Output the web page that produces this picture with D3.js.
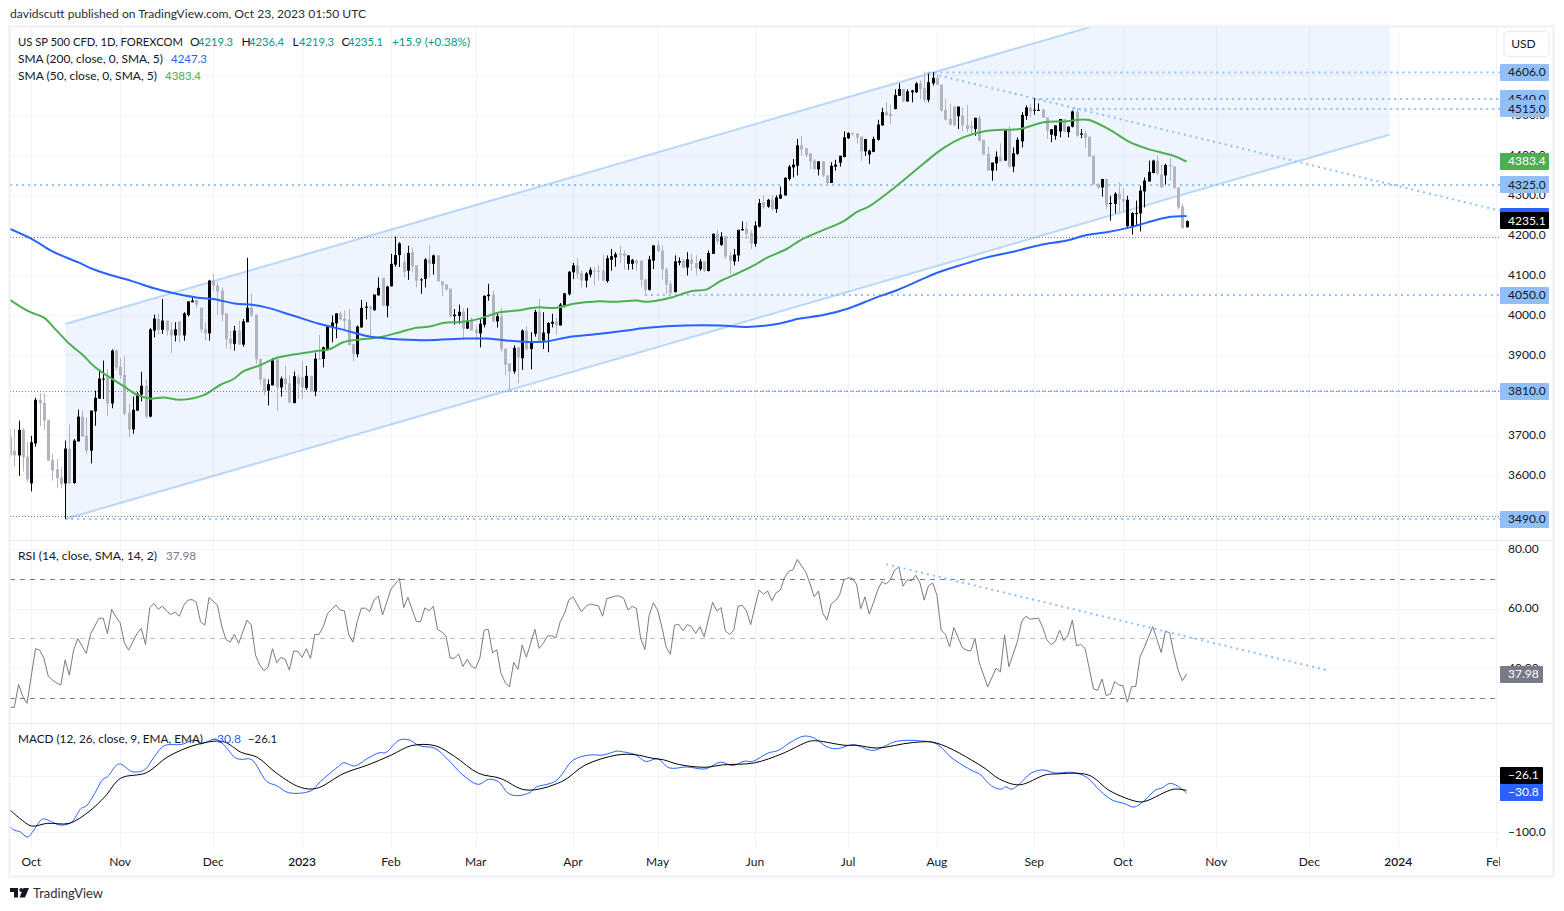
<!DOCTYPE html>
<html><head><meta charset="utf-8">
<script src="https://cdn.jsdelivr.net/npm/d3@7/dist/d3.min.js"></script>
<style>
html,body{margin:0;padding:0;background:#fff}
svg{display:block}
text{font-family:"Lato",sans-serif;font-size:12px;fill:#131722}
</style></head><body>
<svg id="c" width="1564" height="911"></svg>
<script>
// ---------- candle data (index-based trading days) ----------
const candleDirection = [
 'ggbggbbggg','gggbgbbggb','bbbgbggggb','bbgbbgbggb','gbbbgggbgg','gggbgbbggg','gbbgbggbgg','bgbgbbbbgg',
 'ggbbbgbbgb','bbbgbggbbg','bggggbbgbg','gbbbgbgggb','gbgbbgbbbg','bbbbggbbgg','gbbbggbbgg','gbbggggbbg',
 'bggbgbbgbg','gbbbggbbgb','gbbbbbbggg','gbggbbbbbg','ggbbbbbggb','bgbbbggbbg','ggggbgggbg','ggbbgbgbbb',
 'bgbbggbbbg','bbgbggggbg','bbggbbbbbb','bggbggggb'].join('');
const highs = [3715,3715,3736,3718,3682,3698,3793,3805,3805,3738,
 3653,3640,3619,3686,3726,3690,3763,3761,3744,3761,
 3811,3864,3886,3865,3914,3915,3893,3898,3778,3796,
 3807,3858,3839,3967,4001,4004,4040,3986,3982,3982,
 3984,4007,4034,4044,4038,4018,3982,4088,4103,4082,
 4069,4004,3961,3973,3986,3990,4143,4053,4001,3890,
 3841,3839,3892,3889,3846,3873,3849,3859,3851,3884,
 3873,3848,3906,3951,3921,3971,3999,4004,4009,4011,
 4015,3927,3974,4038,4032,4023,4051,4094,4093,4073,
 4153,4196,4182,4153,4173,4168,4124,4092,4142,4175,
 4151,4149,4084,4078,4066,4015,4026,4017,4017,3994,
 3974,3990,4049,4078,4061,4007,4019,3916,3879,3924,
 3921,3964,3972,3957,4013,4040,4007,3982,4003,3994,
 4030,4055,4110,4130,4142,4111,4107,4119,4119,4124,
 4151,4149,4165,4157,4173,4161,4149,4140,4140,4136,
 4089,4148,4174,4186,4174,4119,4086,4149,4144,4140,
 4157,4153,4149,4140,4134,4161,4204,4213,4207,4197,
 4157,4165,4213,4234,4232,4211,4234,4290,4299,4290,
 4299,4299,4321,4344,4375,4390,4440,4448,4417,4404,
 4390,4384,4384,4349,4382,4388,4398,4459,4457,4457,
 4454,4446,4440,4413,4446,4488,4518,4532,4526,4564,
 4579,4565,4564,4563,4582,4586,4609,4603,4607,4601,
 4576,4540,4528,4522,4521,4519,4525,4486,4493,4498,
 4438,4421,4381,4409,4429,4465,4473,4419,4444,4507,
 4524,4528,4542,4529,4515,4494,4465,4474,4490,4490,
 4471,4511,4517,4465,4461,4446,4398,4328,4340,4340,
 4298,4307,4332,4317,4298,4257,4286,4323,4344,4386,
 4388,4398,4376,4378,4393,4371,4319,4279,4236.4];
const lows = [3644,3621,3598,3609,3582,3559,3671,3722,3713,3636,
 3586,3567,3567,3490,3579,3578,3684,3696,3653,3629,
 3723,3791,3790,3747,3767,3861,3840,3749,3694,3703,
 3761,3784,3742,3744,3944,3951,3953,3949,3904,3934,
 3932,3936,3996,4032,4018,3957,3936,3936,4061,4001,
 3984,3916,3914,3911,3926,3921,3982,3994,3878,3826,
 3799,3774,3824,3761,3796,3811,3779,3779,3790,3790,
 3813,3809,3797,3889,3869,3911,3932,3942,3986,3965,
 3924,3884,3894,3968,3989,3949,4011,4049,4023,3994,
 4071,4121,4120,4094,4088,4108,4069,4053,4069,4094,
 4101,4084,4047,4061,3994,3976,3978,3944,3965,3961,
 3938,3919,3969,4036,3982,3969,3907,3849,3811,3853,
 3829,3863,3911,3864,3946,3934,3915,3907,3969,3951,
 3974,4019,4049,4090,4090,4069,4069,4094,4074,4086,
 4086,4081,4111,4121,4129,4113,4113,4114,4111,4071,
 4049,4061,4115,4159,4089,4053,4044,4057,4124,4118,
 4099,4111,4099,4111,4107,4109,4153,4178,4173,4140,
 4103,4124,4134,4211,4190,4165,4171,4219,4265,4268,
 4261,4255,4290,4299,4336,4344,4349,4399,4394,4365,
 4363,4349,4344,4324,4330,4361,4371,4394,4440,4448,
 4428,4386,4398,4378,4407,4436,4473,4498,4478,4514,
 4548,4532,4533,4532,4555,4540,4532,4532,4574,4574,
 4507,4486,4474,4472,4465,4459,4457,4448,4448,4433,
 4401,4361,4336,4361,4384,4386,4368,4357,4400,4419,
 4488,4494,4501,4511,4493,4440,4432,4438,4444,4457,
 4444,4469,4446,4442,4418,4396,4326,4315,4296,4265,
 4236,4254,4257,4259,4215,4201,4224,4209,4269,4334,
 4354,4349,4318,4326,4336,4315,4265,4217,4219.3];
const bodyUpper = [3696,3661,3713,3713,3646,3682,3788,3788,3781,3738,
 3638,3614,3594,3666,3666,3686,3746,3746,3698,3761,
 3793,3841,3841,3844,3911,3911,3871,3851,3756,3763,
 3803,3823,3823,3964,3991,3990,3986,3986,3963,3964,
 3984,4004,4034,4036,4038,4018,3965,4086,4086,4074,
 4061,4004,3941,3961,3961,3984,4018,4018,4001,3890,
 3841,3827,3886,3889,3841,3841,3829,3847,3844,3844,
 3848,3848,3891,3891,3919,3971,3981,4004,4004,3991,
 3988,3927,3971,4018,4021,4021,4051,4068,4093,4071,
 4128,4150,4179,4133,4155,4157,4124,4089,4139,4139,
 4149,4149,4084,4076,4066,4001,4008,4008,3986,3986,
 3964,3978,4048,4051,4051,3997,3996,3916,3879,3918,
 3919,3961,3961,3934,4008,4009,3956,3980,3983,3984,
 4026,4054,4108,4124,4124,4105,4104,4113,4111,4111,
 4111,4142,4147,4152,4154,4154,4149,4138,4136,4136,
 4089,4139,4174,4174,4161,4115,4078,4134,4135,4136,
 4139,4139,4130,4134,4134,4155,4203,4203,4196,4197,
 4149,4151,4213,4215,4216,4205,4224,4280,4282,4288,
 4288,4294,4301,4343,4371,4376,4424,4424,4417,4404,
 4386,4384,4384,4349,4373,4376,4398,4444,4455,4455,
 4454,4446,4440,4411,4440,4476,4507,4507,4503,4550,
 4565,4565,4559,4561,4579,4579,4567,4582,4593,4593,
 4576,4513,4490,4521,4521,4498,4475,4472,4493,4493,
 4438,4403,4381,4396,4396,4465,4465,4404,4438,4500,
 4519,4518,4513,4513,4514,4494,4464,4474,4490,4490,
 4471,4509,4509,4454,4454,4446,4398,4328,4340,4340,
 4280,4303,4304,4290,4288,4255,4255,4311,4336,4358,
 4386,4386,4351,4375,4375,4371,4319,4271,4235.1];
const bodyLower = [3649,3649,3649,3644,3589,3579,3679,3779,3736,3636,
 3611,3592,3578,3579,3579,3580,3684,3696,3661,3661,
 3759,3791,3839,3779,3779,3869,3849,3753,3714,3714,
 3761,3801,3746,3746,3961,3963,3963,3961,3949,3949,
 3949,3949,4000,4032,4026,3964,3954,3954,4073,4059,
 4001,3939,3929,3928,3926,3926,3982,3999,3889,3839,
 3810,3811,3824,3819,3819,3827,3781,3780,3828,3819,
 3818,3809,3809,3889,3890,3915,3969,3979,3989,3984,
 3925,3903,3902,3969,4018,4016,4012,4049,4023,4023,
 4072,4126,4150,4108,4111,4122,4086,4087,4090,4128,
 4128,4084,4074,4064,3996,3997,3998,3966,3966,3961,
 3954,3954,3976,4047,3984,3984,3914,3876,3859,3859,
 3894,3892,3914,3915,3953,3934,3936,3954,3978,3974,
 3974,4023,4052,4107,4103,4086,4086,4101,4109,4108,
 4086,4085,4138,4144,4150,4147,4128,4128,4129,4088,
 4063,4063,4136,4159,4114,4076,4055,4057,4131,4118,
 4119,4128,4117,4115,4111,4110,4153,4184,4175,4146,
 4136,4134,4149,4212,4203,4179,4178,4221,4269,4271,
 4265,4265,4291,4299,4340,4369,4373,4414,4400,4384,
 4365,4364,4349,4330,4330,4371,4381,4395,4442,4453,
 4443,4409,4409,4401,4408,4438,4474,4500,4498,4515,
 4548,4534,4534,4557,4557,4565,4538,4538,4579,4576,
 4511,4488,4476,4474,4497,4474,4465,4467,4465,4436,
 4401,4361,4361,4379,4384,4386,4371,4371,4403,4434,
 4498,4509,4511,4512,4493,4461,4451,4448,4459,4459,
 4457,4471,4448,4451,4443,4396,4326,4318,4319,4276,
 4278,4278,4289,4284,4222,4222,4254,4254,4309,4334,
 4355,4353,4319,4349,4372,4318,4269,4217,4219.3];

// ---------- moving averages (bar position) ----------
const sma200Bars = [0,5.5,10,16,20,24.4,29,34,38.5,44,48,53,57.5,60.5,67,73,79.5,84,89,92,98.4,107.9,112.6,115.7,121.3,126.8,131.5,139.4,145.7,148.8,155.1,167.7,174,181.9,186.6,192.1,197.7,204,209.5,215,219.7,226,230.8,237,243.4,249.7,254.4,259.1,265.4,268.6,273.3,278];
const sma200Vals = [4215,4188,4159,4132,4113,4098,4084,4067,4055,4044,4040,4029,4025,4019,3998,3978,3961,3948,3941,3939,3937,3941,3941,3938,3933,3934,3944,3953,3961,3966,3972,3974,3970,3979,3991,4000,4015,4041,4062,4087,4108,4129,4144,4158,4175,4186,4200,4207,4221,4231,4244,4247.3];
const sma50Bars = [0,2.4,4.8,7.9,11,14.2,17.3,19.7,22.8,26.8,29.9,33,36.2,40.2,45.6,49.6,52.8,55.1,59,63,67,71.7,75.6,78.7,82.7,86.6,92.1,96,99.2,102.3,107.1,111,115.7,119.7,124.4,129.1,133.1,138.6,142.5,148.1,150.4,156,160.7,164.6,167.7,172.5,176.4,178.8,183.5,186.6,191.4,196.9,200,203.2,209.5,215.8,220.5,225.2,230,234.7,238.6,244.2,248.9,253.6,255.2,259.9,264.6,268.6,274.9,278];
const sma50Vals = [4038,4021,4007,3994,3961,3926,3899,3873,3849,3822,3801,3791,3794,3788,3799,3825,3840,3859,3874,3893,3901,3909,3915,3932,3939,3943,3957,3968,3971,3980,3983,3991,4007,4011,4019,4018,4028,4034,4033,4036,4033,4043,4059,4064,4084,4107,4128,4143,4165,4186,4209,4234,4257,4273,4323,4378,4417,4444,4459,4463,4465,4482,4484,4489,4487,4463,4432,4416,4398,4383.4];

// ---------- RSI ----------
const rsiBars = [0,1,2,3,4,6,7,8,9,10,11,12,13,14,15,16,18,19,21,22,23,24,25,26,27,28,30,31,32,33,34,35,36,37,38,39,40,41,42,43,44,45,46,47,49,50,51,52,53,54,56,57,58,59,60,61,62,63,64,65,66,67,68,69,70,71,72,73,74,75,76,77,78,79,80,81,82,83,84,85,86,87,88,90,91,92,93,94,96,97,98,99,100,101,102,103,104,105,106,107,108,109,110,111,112,113,114,115,116,117,118,119,120,121,122,124,125,126,127,128,129,130,131,132,133,135,136,137,139,140,141,143,144,145,146,147,148,149,150,151,152,153,154,155,156,157,158,159,160,161,162,163,164,166,167,168,169,170,171,172,173,174,175,176,177,178,179,180,181,182,183,184,185,186,188,189,190,191,192,193,194,195,196,197,198,199,200,201,202,203,204,205,206,207,208,209,210,211,212,213,214,215,216,217,218,219,220,221,222,223,225,226,227,228,229,231,233,234,235,236,238,239,240,241,243,244,245,246,247,248,249,250,251,252,253,254,255,256,257,258,259,260,261,262,263,264,265,266,267,268,270,272,273,274,275,276,277,278];
const rsiVals = [26.8,26.8,34.5,30.4,28.1,46.5,46,43.2,37.3,36,35,34.3,42.7,37.6,46,49.9,44.9,51.4,56.7,56.7,51.6,59.7,57.2,55.2,48.5,46,51.6,53.3,47.9,60.3,61.7,59.8,60.8,59.1,58,58.8,57.4,61,62.8,63,62.1,55.5,54.4,63.7,61.1,54.1,49.6,48.7,51.3,48.3,56.1,54.4,44.3,41,39.1,40.4,46.5,41.8,43.6,42.9,39.3,45.7,45.6,43.6,46.5,43.2,51.3,51.3,53.9,58.3,59.7,61.2,59.5,59.2,51.3,48.7,55.5,60.1,60.1,59,62.8,64.2,57.8,66.5,68.2,70.1,60.3,63.7,55.6,55.6,60.2,59.2,60.8,53,52.1,50.7,43.3,43.3,44.7,40.5,42.9,40.6,39.9,43.3,52.7,53,45.1,46.2,38.2,35.1,33.6,41.9,39.5,47.7,43.6,53,46.6,48.3,50.8,50.8,50.2,55.6,58.3,62.8,63.9,58.9,60.6,61.5,60.9,57.4,63.3,64.2,64.2,63.4,59.5,60.7,60,49.9,46.2,57.7,61.9,59.5,53.9,47.1,44.6,54.4,54.7,52.5,54.6,53.9,51.6,53.9,50.5,62.1,59.2,60.3,52.5,51.3,52.7,60.7,61.1,59.2,54.6,60.6,66.2,64.8,65.9,62.6,65.3,66.2,70.4,72.5,73.1,76.5,72.3,68.4,63.9,65.9,58.6,56.1,61.5,62.6,64.5,69.5,70.3,70.1,68.2,60,63.9,58.1,61.9,66.2,69,68.2,69.7,72.9,74,67.5,69.7,69.3,71.2,68.6,62.8,67.6,68.6,64.5,52.7,51.4,47.1,53.6,46.9,46,45.7,49.9,41.8,33.7,39.9,38.7,51.1,40.4,48.8,55.5,57.4,56.4,56.8,53.6,49.4,47.8,49,52.7,49.2,51.1,56.1,47.5,47.9,46.6,39.9,33,32.5,36.3,30.7,31.3,35.4,34.3,34,28.5,33.7,33.8,43.8,46.9,53.9,45.2,52.4,51.8,44.9,39.3,35.7,37.98];

// ---------- MACD ----------
const macdBars = [0,0.9,2.3,4.2,5.6,7.7,9.8,11.8,14.4,16.8,18,20,21.9,23,25.2,26.1,28.9,31.7,34.1,36.4,40.6,43.4,45.3,48.6,50.4,53.2,54.6,57,60.7,63,65.8,71,73.3,77.5,78.9,81.3,84.5,87.3,88.7,92,94.3,96.7,100.4,103.2,107,110.7,113,115.4,117.7,120,122.9,124.2,128.9,133.1,136.9,140.1,143.4,144.1,147.8,150.2,153,155.8,160,164.2,167.9,170.7,173.5,175.4,179.1,181.5,184.3,187.5,189.9,193.1,195.5,199.2,203.9,209.5,215.1,218.8,222.6,227.3,229.1,231.9,234.3,235.2,236.6,238.5,241.3,244.1,246.9,251.1,254.4,257.6,260.4,263.2,265.6,267.9,270.7,272.1,274,275.8,278];
const macdVals = [-90.6,-96.5,-99.4,-108.9,-96.5,-76.9,-81.7,-87.6,-83.5,-58,-53.9,-31.4,-6.5,-1.8,19,20.7,7.1,10.1,33.8,53.3,55.7,63.4,57.4,65.1,55.7,32,29,29,-10.6,-17.7,-30.2,-27.2,-10.6,16,23.1,17.2,30.8,40.9,40.9,63.4,63.4,53.3,48.6,30.8,1.2,-15.4,-6.5,-10.6,-31.4,-35.5,-29.6,-20.7,-9.5,27.8,36.7,36.7,43.8,43.2,37.2,25.2,30,13.8,15.6,12,24,18,25.8,25.2,40.2,45,58.8,70.2,67.2,51,48,55.2,45,61.2,61.8,57,31.2,9,3,-18,-24,-19.8,-24,-15,4.8,10.2,4.8,6,-3,-27,-43.2,-49.2,-55.8,-45,-25.2,-22.2,-13.8,-18,-30.8];
const signalBars = [0,2.3,5.1,8.8,14,18.6,22.4,26.1,32.2,37.3,44.3,50.4,54.6,58.4,63,68.6,72.4,78.9,84.5,90.1,94.8,100.4,105.1,110.7,115.8,121.9,130.3,135.9,143.4,147.8,151.6,154.4,158.1,164.2,168.4,175.9,182.4,188.9,190.8,197.3,200.1,204.8,213.2,218.8,229.6,233.8,238.5,244.5,246.9,254.8,259.9,266.5,268.4,274.9,278];
const signalVals = [-61,-75.8,-89.4,-84.6,-84.6,-63.9,-37.3,-4.7,5.3,33.8,55.7,60.4,41.5,32.6,4.2,-20.7,-22.5,4.2,19,36.7,53.3,53.3,33.8,4.2,-4.7,-25.4,-10.6,19,36.7,37.2,31.2,28.2,19.8,15,19.2,22.8,39,61.2,61.8,54,54,49.2,58.8,58.2,16.8,-6,-16.2,1.2,3,1.2,-27,-46.2,-45,-24,-26.1];

// ---------- axes, levels, annotations ----------
const monthBars = [5,26,48,69,90,110,133,153,176,198,219,242,263,285,307,328,351];
const monthLabels = ['Oct','Nov','Dec','2023','Feb','Mar','Apr','May','Jun','Jul','Aug','Sep','Oct','Nov','Dec','2024','Feb'];
const priceTicks = [3500,3600,3700,3800,3900,4000,4100,4200,4300,4400,4500,4600];
const priceTicksCovered = [3500,3800,4600];
const rsiTicks = [40,60,80];
const macdTicks = [-100,0];
const macdTicksCovered = [0];
const rsiBands = [70,50,30];
const levelPrices = [4606,4540,4515,4325,4050,3810,3490];
const levelStartBars = [217,242,251,0,150,118,13];
const thinLevels = [4196,3810,3497];
const channelBars = [13,326];
const channelLower = [3490,4451];
const channelUpper = [3977.5,4937];
const priceTrendBars = [216.7,352];
const priceTrendVals = [4606,4261];
const rsiTrendBars = [207,311];
const rsiTrendVals = [74.9,39.3];

const svg = d3.select('#c');
const x = d3.scaleLinear().domain([0,352]).range([10.1,10.1+352*4.232]);
const yP = d3.scaleLinear().domain([3490,4606]).range([519,72.6]);
const yR = d3.scaleLinear().domain([40,80]).range([668,549]);
const yM = d3.scaleLinear().domain([-100,0]).range([832,775.7]);
const L=10,R=1500;
const BLUE='#2962ff',GREEN='#4caf50',GREY='#b2b5be',TAGB='#90bff9',GRID='#f0f3fa',LINEB='#90bff9',AX='#131722';

const defs = svg.append('defs');
const clip=(id,a,b,r=R)=>defs.append('clipPath').attr('id',id).append('rect').attr('x',L).attr('y',a).attr('width',r-L).attr('height',b-a);
clip('pM',27,540); clip('pR',541,723); clip('pD',724,848);
defs.append('clipPath').attr('id','tx').append('rect').attr('x',L).attr('y',848).attr('width',R-L).attr('height',28);

// vertical grid
svg.append('g').selectAll('line').data(monthBars).join('line')
 .attr('x1',d=>Math.round(x(d))+.5).attr('x2',d=>Math.round(x(d))+.5).attr('y1',27).attr('y2',848)
 .attr('stroke',GRID);
// horizontal grid + axis labels
function rightAxis(scale,ticks,fmt){
  const g=svg.append('g').attr('transform',`translate(${R},0)`)
    .call(d3.axisRight(scale).tickValues(ticks).tickSize(0).tickPadding(8).tickFormat(fmt));
  g.select('.domain').remove();
  g.selectAll('text').attr('font-size',null).style('font-size','12px').style('fill',AX).attr('dy','.27em');
  svg.insert('g',':first-child').selectAll('line').data(ticks).join('line')
    .attr('x1',L).attr('x2',R).attr('y1',d=>Math.round(scale(d))+.5).attr('y2',d=>Math.round(scale(d))+.5).attr('stroke',GRID);
  return g;
}
rightAxis(yP,priceTicks,d=>priceTicksCovered.includes(d)?'':d.toFixed(1));
rightAxis(yR,rsiTicks,d=>d.toFixed(2));
rightAxis(yM,macdTicks,d=>macdTicksCovered.includes(d)?'':'\u2212'+Math.abs(d).toFixed(1));

// time axis
const tg=svg.append('g').attr('clip-path','url(#tx)').append('g').attr('transform','translate(-0.5,849)')
  .call(d3.axisBottom(x).tickValues(monthBars).tickSize(0).tickPadding(8).tickFormat((d,i)=>monthLabels[i]));
tg.select('.domain').remove();
tg.selectAll('text').attr('font-size',null).style('font-size','12px')
  .style('font-weight',(d,i)=>/^20/.test(monthLabels[i])?'600':'400').style('fill',AX);

// channel
const main=svg.append('g').attr('clip-path','url(#pM)');
const chanPts=[[channelBars[0],channelLower[0]],[channelBars[1],channelLower[1]],[channelBars[1],channelUpper[1]],[channelBars[0],channelUpper[0]]];
main.append('path').attr('d',d3.line().x(d=>x(d[0])).y(d=>yP(d[1]))(chanPts)+'Z').attr('fill','#90bff9').attr('fill-opacity',.15);
[channelLower,channelUpper].forEach(v=>main.append('line')
  .attr('x1',x(channelBars[0])).attr('x2',x(channelBars[1])).attr('y1',yP(v[0])).attr('y2',yP(v[1]))
  .attr('stroke',LINEB).attr('stroke-opacity',.6).attr('stroke-width',2));

// thin grey dotted levels
main.selectAll('.tl').data(thinLevels).join('line').attr('class','tl')
  .attr('x1',L).attr('x2',R).attr('y1',d=>Math.round(yP(d))+.5).attr('y2',d=>Math.round(yP(d))+.5)
  .attr('stroke','#787b86').attr('stroke-dasharray','1,2');
// blue dotted levels
main.selectAll('.lv').data(levelPrices).join('line').attr('class','lv')
  .attr('x1',(d,i)=>x(levelStartBars[i])).attr('x2',R).attr('y1',d=>yP(d)).attr('y2',d=>yP(d))
  .attr('stroke',LINEB).attr('stroke-width',2).attr('stroke-dasharray','2,4');
main.append('line').attr('x1',x(priceTrendBars[0])).attr('x2',x(priceTrendBars[1]))
  .attr('y1',yP(priceTrendVals[0])).attr('y2',yP(priceTrendVals[1]))
  .attr('stroke',LINEB).attr('stroke-width',2).attr('stroke-dasharray','2,4');

// candles
const idx=d3.range(highs.length);
const colOf=i=>candleDirection[i]==='b'?'#000':GREY;
const cg=main.append('g');
cg.selectAll('.w').data(idx).join('rect').attr('class','w')
  .attr('x',i=>Math.round(x(i))).attr('width',1).attr('y',i=>yP(highs[i])).attr('height',i=>yP(lows[i])-yP(highs[i]))
  .attr('fill',colOf);
cg.selectAll('.b').data(idx).join('rect').attr('class','b')
  .attr('x',i=>Math.round(x(i))-1).attr('width',3).attr('y',i=>yP(bodyUpper[i]))
  .attr('height',i=>Math.max(1,yP(bodyLower[i])-yP(bodyUpper[i]))).attr('fill',colOf);

// SMAs
const ln=(xs,ys,sy,curve)=>d3.line().curve(curve||d3.curveLinear).x((d,i)=>x(xs[i])).y((d,i)=>sy(ys[i]))(ys);
const smooth=d3.curveCatmullRom.alpha(.5);
main.append('path').attr('d',ln(sma50Bars,sma50Vals,yP,smooth)).attr('fill','none').attr('stroke',GREEN).attr('stroke-width',2);
main.append('path').attr('d',ln(sma200Bars,sma200Vals,yP,smooth)).attr('fill','none').attr('stroke',BLUE).attr('stroke-width',2);

// RSI pane
const rp=svg.append('g').attr('clip-path','url(#pR)');
rp.selectAll('line.b').data(rsiBands).join('line').attr('class','b')
  .attr('x1',L).attr('x2',R).attr('y1',d=>Math.round(yR(d))+.5).attr('y2',d=>Math.round(yR(d))+.5)
  .attr('stroke','#787b86').attr('stroke-opacity',d=>d===50?.5:1).attr('stroke-dasharray','5,5');
rp.append('path').attr('d',ln(rsiBars,rsiVals,yR)).attr('fill','none').attr('stroke','#787b86').attr('stroke-width',1);
rp.append('line').attr('x1',x(rsiTrendBars[0])).attr('x2',x(rsiTrendBars[1]))
  .attr('y1',yR(rsiTrendVals[0])).attr('y2',yR(rsiTrendVals[1]))
  .attr('stroke',LINEB).attr('stroke-width',2).attr('stroke-dasharray','2,4');

// MACD pane
const mp=svg.append('g').attr('clip-path','url(#pD)');
mp.append('path').attr('d',ln(macdBars,macdVals,yM,smooth)).attr('fill','none').attr('stroke',BLUE).attr('stroke-width',1);
mp.append('path').attr('d',ln(signalBars,signalVals,yM,smooth)).attr('fill','none').attr('stroke','#000').attr('stroke-width',1);

// frame
const fr='#e8eaf0';
svg.append('rect').attr('x',9.5).attr('y',26.5).attr('width',1544).attr('height',850).attr('fill','none').attr('stroke','#eef0f6').attr('stroke-width',2);
[540,723].forEach(v=>svg.append('line').attr('x1',L).attr('x2',1553).attr('y1',v+.5).attr('y2',v+.5).attr('stroke',fr).attr('stroke-width',1));

// tags
const tagLabels=[['4540.0',4540,TAGB,AX,49],['4515.0',4515,TAGB,AX,49],['4606.0',4606,TAGB,AX,49],['4383.4',4383.4,GREEN,'#fff',49],['4325.0',4325,TAGB,AX,49],
  ['',4247.3,BLUE,'#fff',49],['4235.1',4235.1,'#000','#fff',49],['4050.0',4050,TAGB,AX,49],['3810.0',3810,TAGB,AX,49],['3490.0',3490,TAGB,AX,49]];
function tag(label,yy,bg,fg,w){
  svg.append('rect').attr('x',R).attr('y',Math.round(yy-8.5)).attr('width',w).attr('height',17).attr('rx',1).attr('fill',bg);
  if(label) svg.append('text').attr('x',R+8).attr('y',yy).attr('dy','.3em').text(label).style('fill',fg).style('font-size','12px');
}
tagLabels.forEach(t=>tag(t[0],yP(t[1]),t[2],t[3],t[4]));
tag('37.98',yR(37.98),'#787b86','#fff',43);
tag('\u221226.1',775,'#000','#fff',43);
tag('\u221230.8',792,BLUE,'#fff',43);

// USD
svg.append('rect').attr('x',1504).attr('y',31.5).attr('width',45).attr('height',25).attr('rx',4).attr('fill','#fff').attr('stroke','#eceef3').attr('stroke-width',1.5);
svg.append('text').attr('x',1523.5).attr('y',44).attr('dy','.35em').attr('text-anchor','middle').text('USD');

// texts (width = measured span of the string in the reference)
function t(xx,yy,s,c,w){const e=svg.append('text').attr('x',xx).attr('y',yy).attr('dy','.35em').text(s).style('fill',c||AX);
  if(w) e.attr('textLength',w).attr('lengthAdjust','spacingAndGlyphs'); return e;}
t(10,14,'davidscutt published on TradingView.com, Oct 23, 2023 01:50 UTC','#2a2e39',356);
const TEAL='#089981';
t(18,41.5,'US SP 500 CFD, 1D, FOREXCOM',AX,165);
t(190,41.5,'O'); t(198,41.5,'4219.3',TEAL,35);
t(241.5,41.5,'H'); t(249,41.5,'4236.4',TEAL,35);
t(292.5,41.5,'L'); t(299,41.5,'4219.3',TEAL,35);
t(341.5,41.5,'C'); t(348,41.5,'4235.1',TEAL,35);
t(392,41.5,'+15.9 (+0.38%)',TEAL,78);
t(18,59,'SMA (200, close, 0, SMA, 5)',AX,145); t(171,59,'4247.3',BLUE,36);
t(18,76,'SMA (50, close, 0, SMA, 5)',AX,139); t(165,76,'4383.4',GREEN,36);
t(18,555.5,'RSI (14, close, SMA, 14, 2)',AX,139); t(166,555.5,'37.98','#787b86',30);
t(18,739,'MACD (12, 26, close, 9, EMA, EMA)',AX,185); t(210,739,'\u221230.8',BLUE,31); t(248,739,'\u221226.1',AX,29);

// footer logo + name
const logo=svg.append('g').attr('transform','translate(10,888)');
logo.append('path').attr('d','M0 0H8V9.5H4V4H0Z M9.5 9.5 L13.5 0 H19 L15 9.5Z').attr('fill','#131722');
logo.append('circle').attr('cx',11.2).attr('cy',2).attr('r',1.9).attr('fill','#131722');
t(33,893.5,'TradingView','#2a2e39',70).style('font-size','13.5px');
</script>
</body></html>
